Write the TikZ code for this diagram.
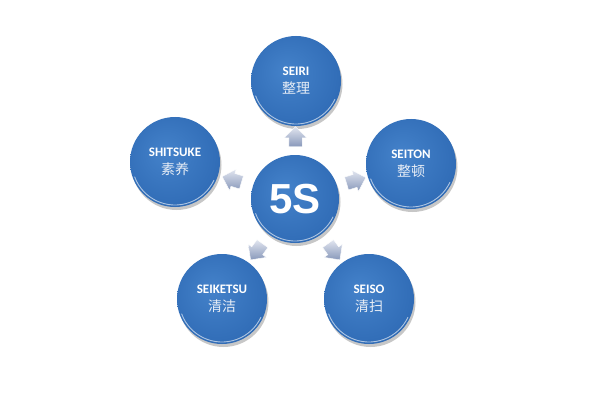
\documentclass[tikz,border=0pt]{standalone}
\usepackage{fontspec}
\usetikzlibrary{calc,shapes.arrows,shadows}
\newfontfamily\latinfont{Carlito}
\newfontfamily\cjkfont{Noto Sans CJK SC}
\newfontfamily\headfont{Liberation Sans}
\definecolor{ballcore}{RGB}{68,130,202}
\definecolor{ballmid}{RGB}{50,110,184}
\definecolor{balledge}{RGB}{34,84,156}
\definecolor{ballrim}{RGB}{22,58,118}
\definecolor{flowlight}{RGB}{226,230,240}
\definecolor{flowdark}{RGB}{136,152,186}
\definecolor{zhtext}{RGB}{232,238,246}
\pgfdeclareradialshading{ballblue}{\pgfpoint{-6bp}{6bp}}{color(0bp)=(ballcore); color(26bp)=(ballmid); color(44bp)=(balledge); color(50bp)=(ballrim)}
\def\rimarc(#1)(#2){\draw[white, opacity=0.6, line width=0.9pt] ($(#1)+(200:#2)$) arc (200:335:#2);}
\def\pair#1#2{{\latinfont\bfseries\fontsize{13}{15}\selectfont #1}\\[6pt]{\cjkfont\color{zhtext}\fontsize{14}{16}\selectfont #2}}
\tikzset{
	ball/.style={circle, minimum size=90pt, inner sep=0pt, shading=ballblue, text=white, align=center,
		drop shadow={shadow xshift=1.5pt, shadow yshift=-3pt, opacity=0.22, fill=black}},
	flow/.style={single arrow, minimum height=18pt, minimum width=22pt, inner sep=6.5pt,
		single arrow head extend=4.5pt, top color=flowlight, bottom color=flowdark,
		draw=white, line width=0.4pt}
}
\begin{document}
\begin{tikzpicture}[x=1pt,y=1pt]
			%%%%% START %%%%%
			
			\fill[white] (0, 0) rectangle (598, 400);
			\useasboundingbox (0, 0) rectangle (598, 400);
			
			\node[ball, minimum size=88pt] (mid) at (295, 201) {};
			\node[text=white, font=\headfont\bfseries\fontsize{42}{42}\selectfont] (head) at (mid) {5S};
			
			\node[ball] (seiri) at (296, 319) {\pair{SEIRI}{整理}};
			\node[ball] (seiton) at (411, 236) {\pair{SEITON}{整顿}};
			\node[ball] (seiso) at (369, 101) {\pair{SEISO}{清扫}};
			\node[ball] (seiketsu) at (222, 101) {\pair{SEIKETSU}{清洁}};
			\node[ball] (shitsuke) at (175, 238) {\pair{SHITSUKE}{素养}};
			
			\rimarc(mid)(42pt)
			\rimarc(seiri)(43pt)
			\rimarc(seiton)(43pt)
			\rimarc(seiso)(43pt)
			\rimarc(seiketsu)(43pt)
			\rimarc(shitsuke)(43pt)
			
			\node[flow, rotate=90] (toseiri) at ($(mid)!0.5!(seiri)$) {};
			\node[flow, rotate=17] (toseiton) at ($(mid)!0.5!(seiton)$) {};
			\node[flow, rotate=306] (toseiso) at ($(mid)!0.5!(seiso)$) {};
			\node[flow, rotate=234] (toseiketsu) at ($(mid)!0.5!(seiketsu)$) {};
			\node[flow, rotate=163] (toshitsuke) at ($(mid)!0.5!(shitsuke)$) {};
			
			%%%%% END %%%%%
		\end{tikzpicture}
\end{document}
